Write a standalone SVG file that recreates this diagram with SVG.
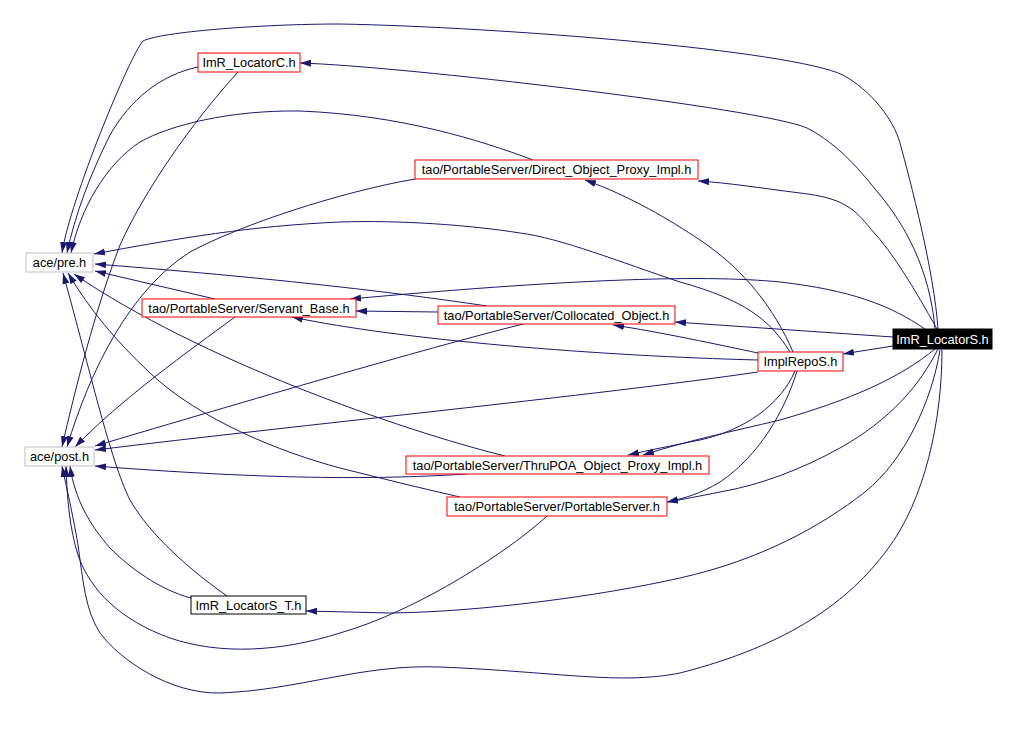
<svg xmlns="http://www.w3.org/2000/svg" width="1017" height="735" viewBox="0 0 1017 735">
<style>
.e{fill:none;stroke:#191970;stroke-width:1}
.n rect{fill:#fff;stroke-width:1}
.r rect{stroke:#ff0000}
.g rect{stroke:#bfbfbf}
.k rect{stroke:#000}
.n text{font-family:"Liberation Sans",Arial,sans-serif;font-size:12.8px;text-anchor:middle;fill:#000}
</style>
<defs>
<marker id="a" markerUnits="userSpaceOnUse" markerWidth="11" markerHeight="8" viewBox="0 0 11 8" refX="11" refY="4" orient="auto">
<path d="M0,0.5 L11,4 L0,7.5 z" fill="#191970"/>
</marker>
</defs>
<rect width="1017" height="735" fill="#fff"/>
<g id="edges" marker-end="url(#a)">
<path class="e" d="M893,346 C875,349 860,351 843,354"/>
<path class="e" d="M935,329 C930,270 905,225 880,195 C862,173 840,145 807,128 C761,108 400,66 300,63"/>
<path class="e" d="M938,329 C934,270 910,180 900,143 C893,118 870,90 843,75 C790,50 500,27 340,24 C260,24 160,32 143,41 C130,55 70,200 62,253"/>
<path class="e" d="M937,329 C915,290 895,255 870,228 C855,210 845,198 800,193 C760,188 730,183 698,181"/>
<path class="e" d="M925,329 C890,305 850,290 780,282 C700,274 560,280 350,299"/>
<path class="e" d="M893,337 L675,322"/>
<path class="e" d="M935,349 C900,378 850,400 780,420 C730,432 690,440 643,455"/>
<path class="e" d="M938,349 C920,385 890,420 840,448 C800,470 760,485 720,492 C700,496 685,499 667,502"/>
<path class="e" d="M940,350 C932,400 905,460 865,492 C820,527 760,560 680,578 C600,596 480,612 390,613 L306,611"/>
<path class="e" d="M942,350 C942,420 925,500 887,550 C850,600 790,645 680,673 C620,685 560,672 440,667 C360,664 300,690 220,693 C170,694 120,660 100,633 C85,610 83,580 78,545 C72,510 67,490 62,466"/>
<path class="e" d="M793,352 C775,310 745,270 700,240 C670,220 630,196 585,180"/>
<path class="e" d="M790,352 C770,320 745,300 680,282 C620,262 560,238 520,233 C470,225 400,220 340,222 C250,226 180,238 94,254"/>
<path class="e" d="M758,360 C600,356 400,340 292,317"/>
<path class="e" d="M758,353 C720,345 660,332 613,325"/>
<path class="e" d="M758,372 C600,395 300,425 95,450"/>
<path class="e" d="M795,371 C780,405 745,430 700,440 C670,446 650,450 628,455"/>
<path class="e" d="M797,371 C785,410 760,455 720,482 C700,494 685,498 667,502"/>
<path class="e" d="M198,67 C160,75 130,100 110,135 C90,175 75,215 67,253"/>
<path class="e" d="M238,72 C190,125 145,190 120,245 C95,310 75,390 62,447"/>
<path class="e" d="M533,160 C480,140 400,115 300,111 C230,110 170,125 140,142 C105,165 80,210 71,253"/>
<path class="e" d="M415,179 C340,192 240,225 190,252 C130,290 90,370 67,447"/>
<path class="e" d="M215,299 L95,271"/>
<path class="e" d="M235,317 C190,350 120,400 75,447"/>
<path class="e" d="M487,306 C420,296 300,280 95,264"/>
<path class="e" d="M523,324 C420,350 250,400 95,446"/>
<path class="e" d="M438,312 L356,311"/>
<path class="e" d="M505,456 C400,430 200,360 74,274"/>
<path class="e" d="M467,474 C400,478 300,482 95,466"/>
<path class="e" d="M460,497 C420,488 380,478 340,468 C280,452 200,420 150,373 C115,340 90,310 68,273"/>
<path class="e" d="M547,516 C510,550 420,610 340,633 C280,652 220,655 170,638 C120,620 90,590 78,555 C70,530 67,500 66,466"/>
<path class="e" d="M227,596 C190,570 150,535 130,500 C110,460 90,370 63,273"/>
<path class="e" d="M191,598 C160,590 130,568 110,548 C90,525 75,500 70,466"/>
</g>
<g id="n_locatorS" class="n"><rect x="893" y="329" width="99" height="20" style="fill:#000;stroke:#000"/><text x="942.5" y="344" style="fill:#fff">ImR_LocatorS.h</text></g>
<g id="n_implrepos" class="n r"><rect x="758" y="352" width="85" height="19"/><text x="800.5" y="366">ImplRepoS.h</text></g>
<g id="n_locatorC" class="n r"><rect x="198" y="53" width="102" height="19"/><text x="249" y="67">ImR_LocatorC.h</text></g>
<g id="n_pre" class="n g"><rect x="26" y="253" width="67" height="19"/><text x="59.5" y="267">ace/pre.h</text></g>
<g id="n_post" class="n g"><rect x="25" y="447" width="69" height="19"/><text x="59.5" y="461">ace/post.h</text></g>
<g id="n_servant" class="n r"><rect x="142" y="299" width="214" height="18"/><text x="249" y="313">tao/PortableServer/Servant_Base.h</text></g>
<g id="n_collocated" class="n r"><rect x="438" y="306" width="237" height="18"/><text x="556.5" y="320">tao/PortableServer/Collocated_Object.h</text></g>
<g id="n_direct" class="n r"><rect x="415" y="160" width="283" height="19"/><text x="556.5" y="174">tao/PortableServer/Direct_Object_Proxy_Impl.h</text></g>
<g id="n_thrupoa" class="n r"><rect x="406" y="456" width="303" height="18"/><text x="557.5" y="470">tao/PortableServer/ThruPOA_Object_Proxy_Impl.h</text></g>
<g id="n_portable" class="n r"><rect x="447" y="497" width="220" height="19"/><text x="557" y="511">tao/PortableServer/PortableServer.h</text></g>
<g id="n_locatorST" class="n k"><rect x="191" y="596" width="115" height="18"/><text x="248.5" y="610">ImR_LocatorS_T.h</text></g>
</svg>
